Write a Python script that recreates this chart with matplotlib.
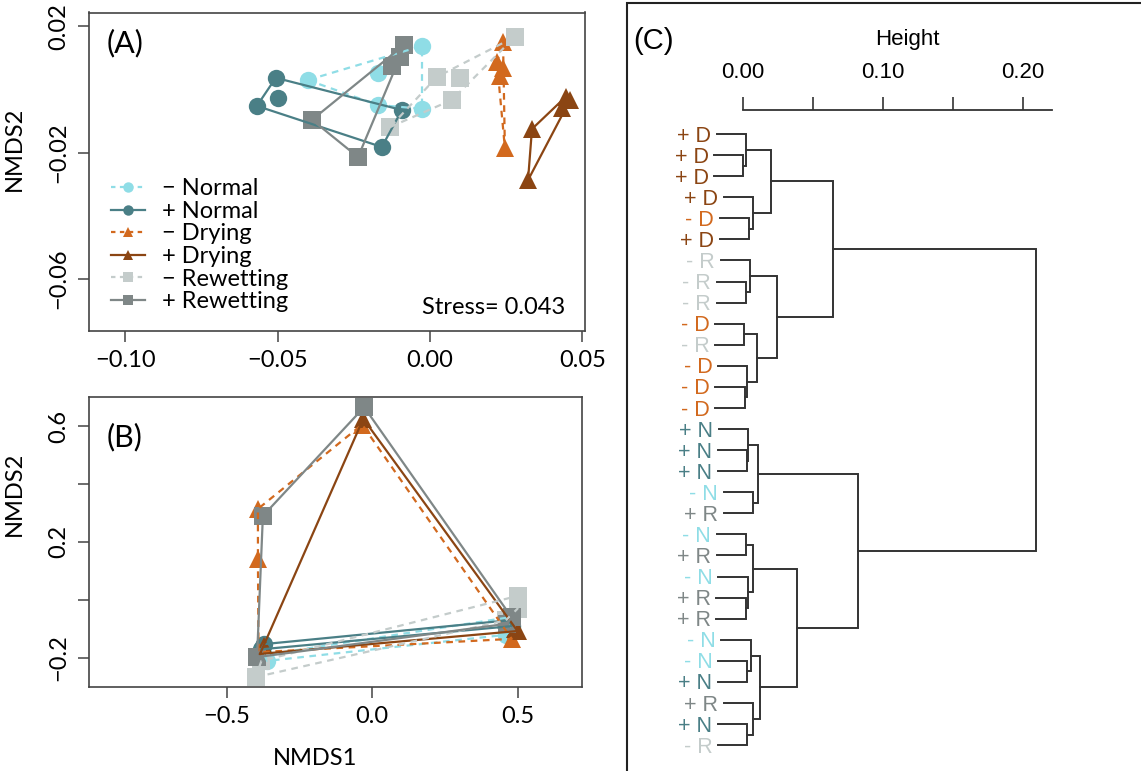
import numpy as np
import matplotlib.pyplot as plt
from matplotlib.lines import Line2D
from matplotlib.patches import Rectangle

SANS = ['Lato', 'DejaVu Sans']
ARIAL = ['Liberation Sans', 'DejaVu Sans']
plt.rcParams['font.family'] = SANS

W, H = 1141, 771

# treatment groups, in plotting order
groups = ['-N', '+N', '-D', '+D', '-R', '+R']
group_names = ['\u2212 Normal', '+ Normal', '\u2212 Drying', '+ Drying',
               '\u2212 Rewetting', '+ Rewetting']
group_colors = ['#8FDDE6', '#4A7F86', '#D2691E', '#8B4513', '#C4CCCB', '#7F8787']
group_markers = ['o', 'o', '^', '^', 's', 's']
group_dashed = [True, False, True, False, True, False]

# NMDS scores, panel A (one list per group)
nmds_a_x = [
    [-0.0401, -0.0171, -0.0026, -0.0026, -0.0171],
    [-0.0506, -0.0499, -0.0568, -0.0092, -0.0158],
    [0.0240, 0.0220, 0.0240, 0.0230, 0.0246],
    [0.0335, 0.0446, 0.0460, 0.0433, 0.0322],
    [0.0023, 0.0098, 0.0072, -0.0131, 0.0279],
    [-0.0085, -0.0098, -0.0125, -0.0387, -0.0236],
]
nmds_a_y = [
    [0.0030, 0.0053, 0.0138, -0.0061, -0.0049],
    [0.0037, -0.0027, -0.0052, -0.0065, -0.0182],
    [0.0151, 0.0087, 0.0068, 0.0043, -0.0185],
    [-0.0125, -0.0023, -0.0033, -0.0058, -0.0287],
    [0.0040, 0.0037, -0.0033, -0.0119, 0.0167],
    [0.0141, 0.0103, 0.0075, -0.0096, -0.0214],
]
stress_a = 0.043

# NMDS scores, panel B
nmds_b_x = [
    [-0.37, -0.36, 0.47, 0.48, 0.46],
    [-0.37, -0.375, -0.38, 0.47, 0.48],
    [-0.034, -0.392, -0.392, -0.39, 0.48],
    [-0.03, -0.385, -0.37, 0.50, 0.49],
    [-0.40, -0.38, 0.50, 0.50, 0.46],
    [-0.027, -0.375, -0.395, 0.464, 0.48],
]
nmds_b_y = [
    [-0.19, -0.21, -0.06, -0.10, -0.12],
    [-0.152, -0.16, -0.17, -0.07, -0.09],
    [0.605, 0.314, 0.141, -0.18, -0.134],
    [0.625, -0.186, -0.16, -0.107, -0.10],
    [-0.266, -0.21, 0.014, -0.03, -0.07],
    [0.665, 0.29, -0.197, -0.082, -0.06],
]

# hierarchical clustering, leaves listed top to bottom
leaf_labels = ['+ D', '+ D', '+ D', '+ D', '- D', '+ D',
               '- R', '- R', '- R', '- D', '- R', '- D', '- D', '- D',
               '+ N', '+ N', '+ N', '- N', '+ R', '- N', '+ R', '- N',
               '+ R', '+ R', '- N', '- N', '+ N', '+ R', '+ N', '- R']
merge_left = [1, 0, 4, 3, 31, 7, 6, 9, 12, 11, 37, 36, 34,
              15, 14, 17, 44, 19, 22, 21, 47, 25, 24, 28, 27, 52, 50, 46, 42]
merge_right = [2, 30, 5, 32, 33, 8, 35, 10, 13, 38, 39, 40, 41,
               16, 43, 18, 45, 20, 23, 48, 49, 26, 51, 29, 53, 54, 55, 56, 57]
merge_height = [0.0003, 0.0020, 0.0043, 0.0074, 0.0198, 0.0020, 0.0050,
                0.0010, 0.0012, 0.0030, 0.0098, 0.0240, 0.0640,
                0.0030, 0.0038, 0.0070, 0.0105, 0.0020, 0.0019, 0.0033,
                0.0074, 0.0030, 0.0055, 0.0030, 0.0070, 0.0121, 0.0388,
                0.0824, 0.2093]
height_ticks = [0.0, 0.05, 0.10, 0.15, 0.20]
height_ticklabels = ['0.00', '', '0.10', '', '0.20']


def px_axes(left, top, right, bottom):
    return fig.add_axes([left / W, 1 - bottom / H, (right - left) / W, (bottom - top) / H])


def convex_hull(xs, ys):
    pts = sorted(set(zip(xs, ys)))
    if len(pts) < 3:
        return pts

    def cross(o, a, b):
        return (a[0] - o[0]) * (b[1] - o[1]) - (a[1] - o[1]) * (b[0] - o[0])

    lower, upper = [], []
    for p in pts:
        while len(lower) >= 2 and cross(lower[-2], lower[-1], p) <= 0:
            lower.pop()
        lower.append(p)
    for p in reversed(pts):
        while len(upper) >= 2 and cross(upper[-2], upper[-1], p) <= 0:
            upper.pop()
        upper.append(p)
    return lower[:-1] + upper[:-1]


def draw_ordination(ax, xs, ys):
    for i in range(len(groups)):
        ax.plot(xs[i], ys[i], ls='none', marker=group_markers[i], ms=12.5,
                mew=0, color=group_colors[i], zorder=2)
    for i in range(len(groups)):
        h = convex_hull(xs[i], ys[i])
        hx = [p[0] for p in h] + [h[0][0]]
        hy = [p[1] for p in h] + [h[0][1]]
        ls = (0, (3, 2.5)) if group_dashed[i] else '-'
        ax.plot(hx, hy, ls=ls, lw=1.6, color=group_colors[i], zorder=3)


def style_box(ax):
    for s in ax.spines.values():
        s.set_linewidth(1.2)
        s.set_color('#444444')
    ax.tick_params(length=8, width=1.1, color='#444444', labelsize=17)
    ax.tick_params(axis='x', pad=6)
    ax.tick_params(axis='y', pad=6, labelrotation=90)
    for lbl in ax.get_yticklabels():
        lbl.set_va('center')


fig = plt.figure(figsize=(W / 100, H / 100), dpi=100)

# ---- (A) NMDS of the first community ----
axA = px_axes(89, 12.5, 585, 331)
draw_ordination(axA, nmds_a_x, nmds_a_y)
axA.set_xlim(-0.1119, 0.0509)
axA.set_ylim(-0.0765, 0.0244)
axA.set_xticks([-0.10, -0.05, 0.0, 0.05])
axA.set_xticklabels(['\u22120.10', '\u22120.05', '0.00', '0.05'])
axA.set_yticks([-0.06, -0.02, 0.02])
axA.set_yticklabels(['\u22120.06', '\u22120.02', '0.02'])
style_box(axA)
axA.set_ylabel('NMDS2', fontsize=17)
axA.yaxis.set_label_coords(-0.129, 0.571)
axA.text(0.036, 0.905, '(A)', transform=axA.transAxes, fontsize=22, va='center')
axA.text(0.96, 0.075, 'Stress= %.3f' % stress_a, transform=axA.transAxes,
         fontsize=17, ha='right', va='center')

handles = []
for i in range(len(groups)):
    handles.append(Line2D([], [], color=group_colors[i], marker=group_markers[i], ms=7.5,
                          mew=0, lw=1.6,
                          ls=(0, (2, 2)) if group_dashed[i] else '-'))
axA.legend(handles, group_names, loc='upper left', bbox_to_anchor=(0.044, 0.48),
           frameon=False, fontsize=17, borderpad=0, borderaxespad=0,
           handlelength=1.45, handletextpad=0.7, labelspacing=0.07)

# ---- (B) NMDS of the second community ----
axB = px_axes(89, 397, 582, 687)
draw_ordination(axB, nmds_b_x, nmds_b_y)
axB.set_xlim(-0.9725, 0.7216)
axB.set_ylim(-0.3, 0.7)
axB.set_xticks([-0.5, 0.0, 0.5])
axB.set_xticklabels(['\u22120.5', '0.0', '0.5'])
axB.set_yticks([-0.2, 0.0, 0.2, 0.4, 0.6])
axB.set_yticklabels(['\u22120.2', '', '0.2', '', '0.6'])
style_box(axB)
axB.set_ylabel('NMDS2', fontsize=17)
axB.yaxis.set_label_coords(-0.13, 0.666)
axB.set_xlabel('NMDS1', fontsize=17)
axB.xaxis.set_label_coords(0.458, -0.21)
axB.text(0.036, 0.86, '(B)', transform=axB.transAxes, fontsize=22, va='center')

# ---- (C) cluster dendrogram ----
fig.patches.append(Rectangle((627 / W, -0.1), 0.6, 1.1 - 3 / H, transform=fig.transFigure,
                             fill=False, lw=1.5, ec='#222222'))
fig.text(633 / W, 1 - 41 / H, '(C)', fontsize=21, family=ARIAL, va='center')

axC = px_axes(640, 110, 1141, 771)
axC.set_xlim(-0.0736, 0.2843)
axC.set_ylim(30.23, -1.139)

n = len(leaf_labels)
hang = 0.1 * max(merge_height)
line_col = '#333333'
pos = {i: (0.0, float(i)) for i in range(n)}
leaf_parent = {}
for k, (l, r, h) in enumerate(zip(merge_left, merge_right, merge_height)):
    xs, ys = [], []
    for c in (l, r):
        if c < n:
            x0 = h - hang
            leaf_parent[c] = h
        else:
            x0 = pos[c][0]
        xs.append(x0)
        ys.append(pos[c][1])
    axC.plot([xs[0], h, h, xs[1]], [ys[0], ys[0], ys[1], ys[1]],
             color=line_col, lw=1.4, solid_joinstyle='miter')
    pos[n + k] = (h, (ys[0] + ys[1]) / 2)

label_colors = dict(zip(['- N', '+ N', '- D', '+ D', '- R', '+ R'], group_colors))
for i, lab in enumerate(leaf_labels):
    axC.text(leaf_parent[i] - hang - 0.004, i + 0.36, lab, ha='right', va='baseline',
             color=label_colors[lab], fontsize=15.5, family=ARIAL)

for s in ['left', 'right', 'bottom']:
    axC.spines[s].set_visible(False)
axC.spines['top'].set_bounds(0, 0.2207)
axC.spines['top'].set_linewidth(1.3)
axC.spines['top'].set_color(line_col)
axC.set_yticks([])
axC.xaxis.tick_top()
axC.set_xticks(height_ticks)
axC.set_xticklabels(height_ticklabels, fontsize=16, family=ARIAL)
axC.tick_params(axis='x', length=9.5, width=1.2, color=line_col, pad=10)
fig.text(907 / W, 1 - 40 / H, 'Height', fontsize=16, family=ARIAL, ha='center', va='center')
axC.patch.set_visible(False)

fig.savefig('out.png', dpi=100)
